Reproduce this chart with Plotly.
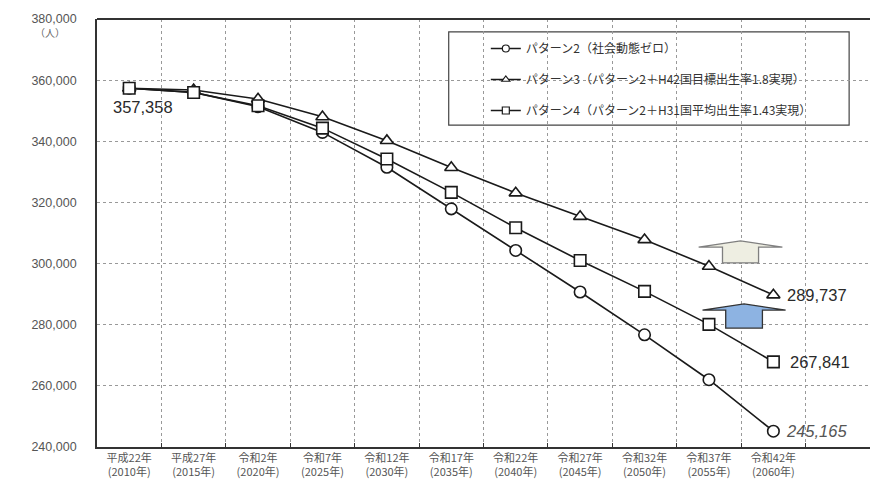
import plotly.graph_objects as go

categories = ["平成22年<br>(2010年)", "平成27年<br>(2015年)", "令和2年<br>(2020年)", "令和7年<br>(2025年)",
              "令和12年<br>(2030年)", "令和17年<br>(2035年)", "令和22年<br>(2040年)", "令和27年<br>(2045年)",
              "令和32年<br>(2050年)", "令和37年<br>(2055年)", "令和42年<br>(2060年)"]
pattern2 = [357358, 356000, 351300, 342900, 331500, 317900, 304300, 290700, 276700, 262000, 245165]
pattern3 = [357358, 356800, 353800, 348000, 340200, 331400, 323100, 315400, 307800, 299100, 289737]
pattern4 = [357358, 355950, 351600, 344300, 334200, 323300, 311700, 301000, 290900, 280100, 267841]
names = ["パターン2（社会動態ゼロ）",
         "パターン3（パターン2＋H42国目標出生率1.8実現）",
         "パターン4（パターン2＋H31国平均出生率1.43実現）"]
y_ticks = [240000, 260000, 280000, 300000, 320000, 340000, 360000, 380000]

xs = list(range(len(categories)))
JP = "Noto Sans CJK JP"
NUM = "Liberation Sans"
INK = "#1a1a1a"

series = [(pattern2, "circle", names[0]), (pattern3, "triangle-up", names[1]),
          (pattern4, "square", names[2])]

traces = []
for vals, sym, nm in series:
    traces.append(go.Scatter(x=xs, y=vals, mode="lines", showlegend=False, hoverinfo="skip",
                             line=dict(color=INK, width=1.6)))
for vals, sym, nm in series:
    traces.append(go.Scatter(
        x=xs, y=vals, name=nm, mode="markers", showlegend=False,
        marker=dict(symbol=sym, size=11.5, color="white", line=dict(width=1.6, color=INK))))
# legend entries (smaller symbols, like the reference)
for i, (vals, sym, nm) in enumerate(series):
    traces.append(go.Scatter(
        x=[None], y=[None], name=nm, mode="lines+markers", legendgroup=f"g{i}",
        line=dict(color=INK, width=1.6),
        marker=dict(symbol=sym, size=7, color="white", line=dict(width=1.2, color=INK))))
fig = go.Figure(data=traces)

last = len(xs) - 1
fig.add_annotation(x=0, y=pattern4[0], text=f"{pattern4[0]:,}", showarrow=False, xanchor="left",
                   xshift=-18, yshift=-19, font=dict(family=NUM, size=16.5, color="#2a2a2a"))
fig.add_annotation(x=last, y=pattern3[last], text=f"{pattern3[last]:,}", showarrow=False,
                   xanchor="left", xshift=12, font=dict(family=NUM, size=16.5, color="#2a2a2a"))
fig.add_annotation(x=last, y=pattern4[last], text=f"{pattern4[last]:,}", showarrow=False,
                   xanchor="left", xshift=15, font=dict(family=NUM, size=16.5, color="#2a2a2a"))
fig.add_annotation(x=last, y=pattern2[last], text=f"<i>{pattern2[last]:,}</i>", showarrow=False,
                   xanchor="left", xshift=11, font=dict(family=NUM, size=16.5, color="#555555"))
fig.add_annotation(x=0, y=1, xref="paper", yref="paper", text="（人）", showarrow=False,
                   xanchor="right", yanchor="top", xshift=-30, yshift=-4,
                   font=dict(family=JP, size=10, color="#666666"))


def up_arrow(x0h, x1h, x0b, x1b, ytop, ybase, ybot, fill, edge):
    path = (f"M {x0b} {ybot} L {x0b} {ybase} L {x0h} {ybase} L {(x0h + x1h) / 2} {ytop} "
            f"L {x1h} {ybase} L {x1b} {ybase} L {x1b} {ybot} Z")
    fig.add_shape(type="path", path=path, xref="x", yref="y", fillcolor=fill,
                  line=dict(color=edge, width=1.3), layer="above")


up_arrow(8.84, 10.14, 9.21, 9.77, 307400, 305400, 300200, "#eeeee2", "#7f7f7f")
up_arrow(8.90, 10.19, 9.26, 9.83, 286800, 284800, 278900, "#8db3e2", "#333333")

fig.add_shape(type="line", xref="paper", yref="paper", x0=0, x1=1, y0=1, y1=1,
              line=dict(color="#333333", width=1.8))
fig.add_shape(type="rect", xref="paper", yref="paper", x0=0.455, x1=0.973, y0=0.752, y1=0.970,
              fillcolor="white", line=dict(color="#444444", width=1.2), layer="below")

fig.update_layout(
    width=887, height=480,
    margin=dict(l=97, r=17, t=19, b=33),
    paper_bgcolor="white", plot_bgcolor="white",
    font=dict(family=JP, color="#555555"),
    showlegend=True,
    legend=dict(x=0.503, y=0.965, xanchor="left", yanchor="top", bgcolor="rgba(0,0,0,0)",
                font=dict(family=JP, size=12, color="#333333"), tracegroupgap=12,
                itemwidth=30),
    xaxis=dict(range=[-0.5, 11.5], tickmode="array", tickvals=xs, ticktext=categories,
               showgrid=False, ticks="", showline=True, linecolor="#333333", linewidth=1.8,
               tickfont=dict(family=JP, size=11, color="#555555"), automargin=False,
               zeroline=False, ticklabelstandoff=0,
               minor=dict(tickvals=[i + 0.5 for i in xs], showgrid=True, gridcolor="#999999",
                          griddash="dot", gridwidth=1, ticks="inside", ticklen=4,
                          tickcolor="#333333")),
    yaxis=dict(range=[240000, 380000], tickmode="array", tickvals=y_ticks,
               ticktext=[f"{v:,}" for v in y_ticks], showgrid=True, gridcolor="#999999",
               griddash="dot", gridwidth=1, showline=True, linecolor="#333333", linewidth=1.8,
               zeroline=False, ticks="", ticklabelstandoff=16,
               tickfont=dict(family=NUM, size=12.5, color="#555555"), automargin=False),
)

fig.write_html("out.html", config={"displayModeBar": False},
               post_script="document.body.style.margin='0';document.body.style.overflow='hidden';")
